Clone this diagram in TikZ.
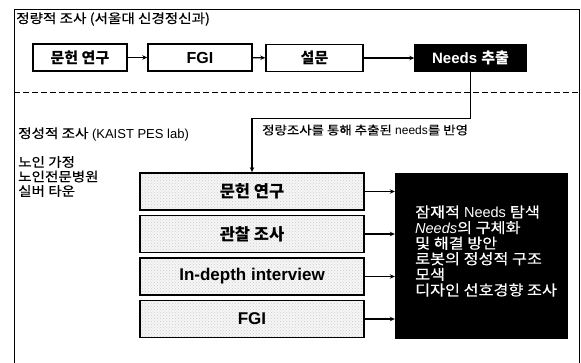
\documentclass[tikz,border=0pt]{standalone}
\usepackage{fontspec}
\setmainfont{Liberation Sans}
\newfontfamily\kr{Noto Sans CJK KR}
\newfontfamily\krw[FakeStretch=1.12,FakeBold=0.4]{Noto Sans CJK KR}
\usetikzlibrary{arrows.meta,patterns}
\begin{document}
\begin{tikzpicture}[x=1pt,y=-1pt,
  topbox/.style={draw,line width=1.4pt,minimum height=27pt,inner sep=0pt,font=\bfseries\fontsize{15}{18}\selectfont},
  lowbox/.style={draw,line width=1.8pt,minimum width=224pt,minimum height=37pt,inner sep=0pt,
    preaction={fill=gray!7},pattern=crosshatch dots,pattern color=gray!40,
    font=\bfseries\fontsize{16.5}{18}\selectfont},
  lbl/.style={anchor=west,inner sep=0pt,font=\fontsize{13}{14.5}\selectfont},
  conn/.style={line width=1.2pt,-{Stealth[length=5pt,width=4.5pt]}},
]
\useasboundingbox (0,0) rectangle (581,362);
\fill[white] (0,0) rectangle (581,362);
\begin{scope}
\clip (0,0) rectangle (581,362);
\draw[line width=1pt] (14,372) -- (14,9) -- (579.5,9) -- (579.5,372);
\end{scope}

\node[lbl] (t1) at (16,19) {{\krw 정량적 조사 (서울대 신경정신과)}};

\node[topbox,minimum width=94pt] (n1) at (80,57.5) {\kr 문헌 연구};
\node[topbox,minimum width=104pt] (n2) at (200,57.5) {\fontsize{16}{18}\selectfont FGI};
\node[topbox,minimum width=97pt] (n3) at (314.5,58) {\kr 설문};
\node[topbox,minimum width=111pt,fill=black,text=white] (n4) at (470.5,58) {Needs {\kr 추출}};
\draw[conn] (n1) -- (n2);
\draw[conn] (n2) -- (n3);
\draw[conn] (n3) -- (n4);

\coordinate (dl) at (14,92);
\coordinate (dr) at (581,92);
\draw[line width=1pt,dash pattern=on 6pt off 3pt] (dl) -- (dr);

\node[lbl] (t2) at (18,134) {{\krw 정성적 조사} (KAIST PES lab)};
\node[lbl,align=left] (places) at (18,176.5) {{\krw 노인 가정}\\{\krw 노인전문병원}\\{\krw 실버 타운}};

\node[lowbox] (m1) at (252,191.5) {\kr 문헌 연구};
\node[lowbox] (m2) at (252,234) {\kr 관찰 조사};
\node[lowbox] (m3) at (252,276.5) {\fontsize{17}{18}\selectfont In-depth interview};
\node[lowbox] (m4) at (252,319) {\fontsize{17}{18}\selectfont FGI};

\draw[conn] (n4.south) -- ++(0,46) -| (m1.north);
\node[anchor=west,inner sep=0pt,font=\fontsize{12}{14}\selectfont] (t3) at (262,130) {{\krw 정량조사를 통해 추출된} needs{\krw 를 반영}};

\node[fill=black,minimum width=173pt,minimum height=166pt,inner sep=0pt] (res) at (481.5,256) {};
\node[anchor=west,inner sep=0pt,text=white,align=left,font=\fontsize{14.5}{15.6}\selectfont] (restext) at (415,251)
  {{\krw 잠재적} Needs {\krw 탐색}\\\textit{Needs}{\krw 의 구체화}\\{\krw 및 해결 방안}\\{\krw 로봇의 정성적 구조}\\{\krw 모색}\\{\krw 디자인 선호경향 조사}};

\draw[conn] (m1.east) -- (res.west |- m1.east);
\draw[conn] (m2.east) -- (res.west |- m2.east);
\draw[conn] (m3.east) -- (res.west |- m3.east);
\draw[conn] (m4.east) -- (res.west |- m4.east);
\end{tikzpicture}
\end{document}
